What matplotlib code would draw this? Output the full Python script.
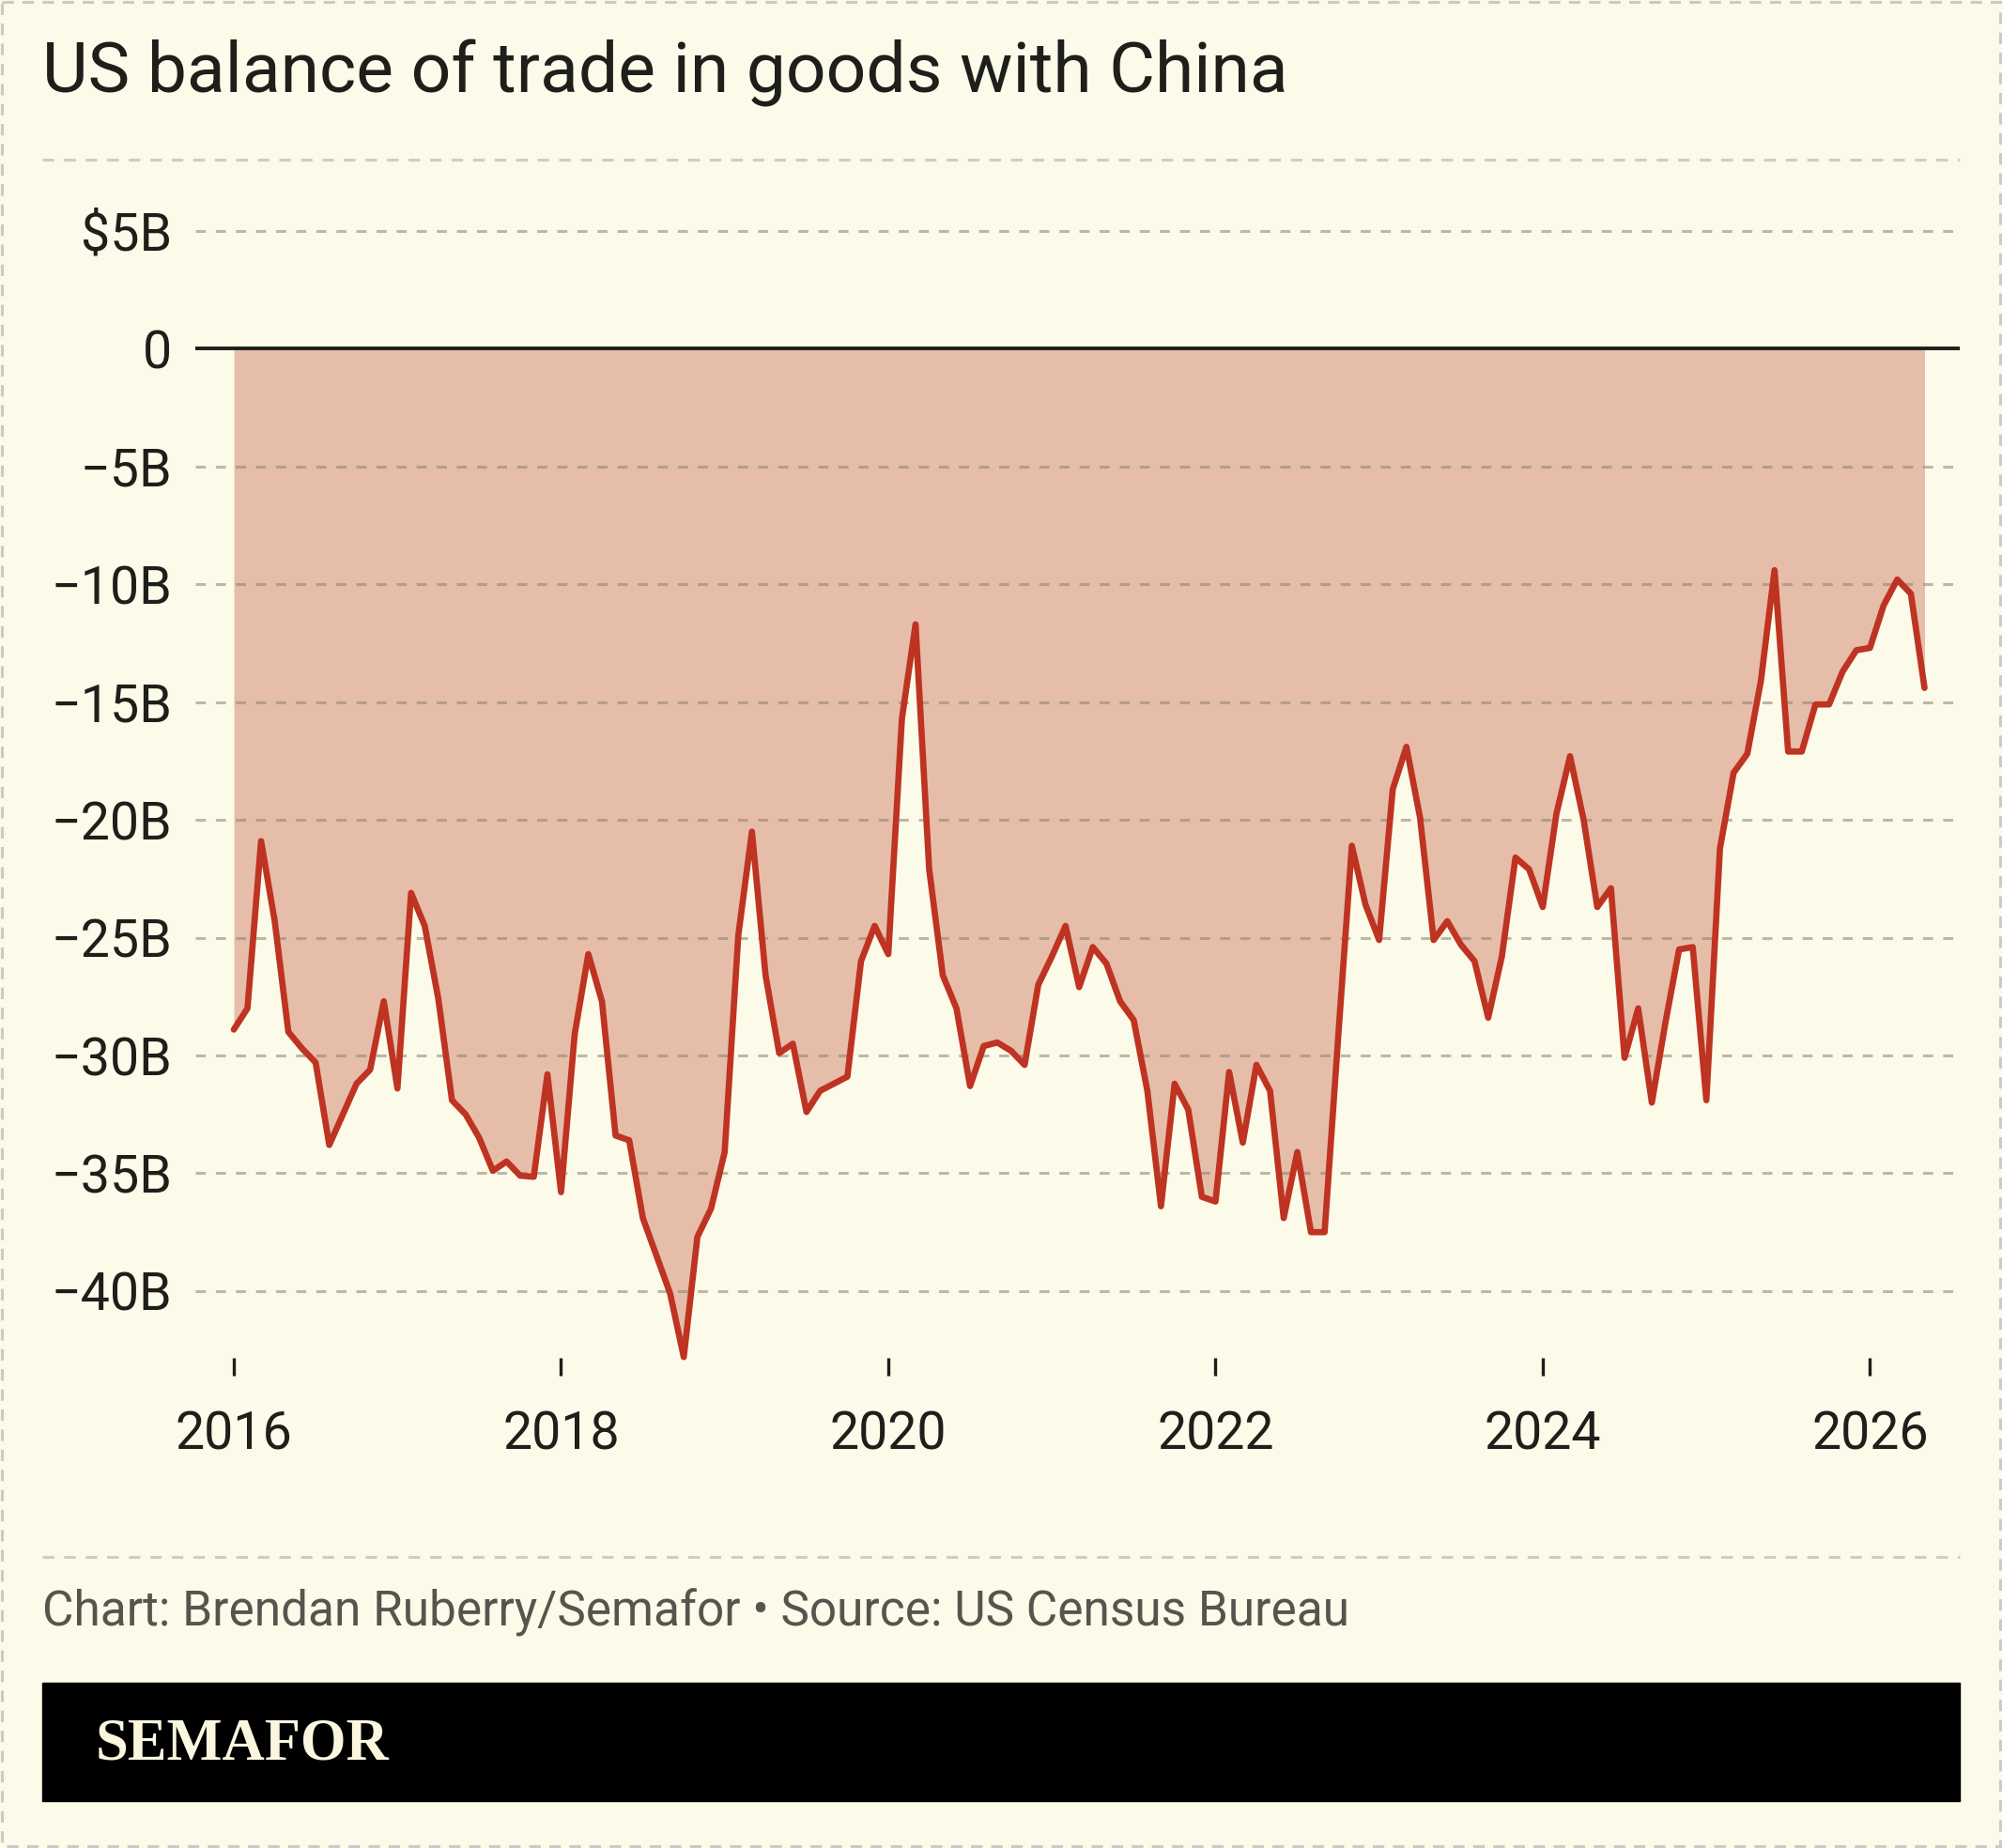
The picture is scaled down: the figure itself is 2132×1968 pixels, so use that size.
import numpy as np
import matplotlib
matplotlib.use("Agg")
import matplotlib.pyplot as plt

# monthly US goods trade balance with China, $B, Jan 2016 .. May 2026
balance = [
    -28.9, -28.0, -20.9, -24.3, -29.0, -29.7, -30.3, -33.8, -32.5, -31.2, -30.6, -27.7,
    -31.4, -23.1, -24.5, -27.6, -31.9, -32.5, -33.5, -34.9, -34.5, -35.1, -35.15, -30.8,
    -35.8, -29.1, -25.7, -27.7, -33.4, -33.6, -36.9, -38.5, -40.1, -42.8, -37.7, -36.5,
    -34.1, -24.9, -20.5, -26.6, -29.9, -29.5, -32.4, -31.5, -31.2, -30.9, -26.0, -24.5,
    -25.7, -15.7, -11.7, -22.1, -26.6, -28.0, -31.3, -29.6, -29.45, -29.8, -30.4, -27.0,
    -25.8, -24.5, -27.1, -25.4, -26.1, -27.7, -28.5, -31.5, -36.4, -31.2, -32.3, -36.0,
    -36.2, -30.7, -33.7, -30.4, -31.5, -36.9, -34.1, -37.5, -37.5, -29.2, -21.1, -23.6,
    -25.1, -18.7, -16.9, -19.9, -25.1, -24.3, -25.3, -26.0, -28.4, -25.8, -21.6, -22.1,
    -23.7, -19.75, -17.3, -20.0, -23.7, -22.9, -30.1, -28.0, -32.0, -28.6, -25.5, -25.4,
    -31.9, -21.2, -18.0, -17.2, -14.1, -9.4, -17.1, -17.1, -15.1, -15.1, -13.7, -12.8,
    -12.7, -10.9, -9.8, -10.4, -14.4,
]
months = np.arange(len(balance))

year_ticks = [0, 24, 48, 72, 96, 120]
year_labels = ["2016", "2018", "2020", "2022", "2024", "2026"]
y_ticks = [5, 0, -5, -10, -15, -20, -25, -30, -35, -40]
y_labels = ["$5B", "0", "\u22125B", "\u221210B", "\u221215B", "\u221220B",
            "\u221225B", "\u221230B", "\u221235B", "\u221240B"]

FONT = "Roboto"
BG = "#FCFAE8"
INK = "#1E1E1A"
W, H = 2132, 1968

fig = plt.figure(figsize=(W / 100, H / 100), dpi=100, facecolor=BG)

def fx(px):
    return px / W

def fy(py):
    return 1 - py / H

# overlay in pixel coords for frame, separators, banner, texts
ov = fig.add_axes([0, 0, 1, 1], facecolor="none")
ov.set_xlim(0, W)
ov.set_ylim(H, 0)
ov.axis("off")
ov.add_patch(plt.Rectangle((2, 2), W - 4, H - 4, fill=False, ec="#CCCAC2",
                           lw=2.2, ls=(0, (4, 3))))
ov.plot([45, 2087], [170, 170], color="#CFCCC2", lw=2.2, ls=(0, (4, 3.5)))
ov.plot([45, 2087], [1658, 1658], color="#CFCCC2", lw=2.2, ls=(0, (4, 3.5)))
ov.add_patch(plt.Rectangle((45, 1792), 2087 - 45, 126, color="black"))
ov.text(102, 1858, "SEMAFOR", color="#FBF6DE", fontsize=45, fontweight="bold",
        family="Liberation Serif", va="center", ha="left")

ov.text(45, 78, "US balance of trade in goods with China", fontsize=54,
        family=FONT, color=INK, va="center", ha="left")
ov.text(45, 1717, "Chart: Brendan Ruberry/Semafor \u2022 Source: US Census Bureau",
        fontsize=37, family=FONT, color="#55554E", va="center", ha="left")

# chart axes: x from 208 to 2087 px, y from 230 to 1446 px
x_px0, x_px1 = 208, 2087
y_px0, y_px1 = 230, 1446
m_px = 14.52
zero_px, b_px = 371.3, 25.09
ax = fig.add_axes([fx(x_px0), fy(y_px1), fx(x_px1 - x_px0), (y_px1 - y_px0) / H])
ax.set_facecolor("none")
ax.set_xlim(-(249 - x_px0) / m_px, (x_px1 - 249) / m_px)
ax.set_ylim((zero_px - y_px1) / b_px, (zero_px - y_px0) / b_px)

ax.fill_between(months, balance, 0, color="#E6BDA8", lw=0, zorder=1)
for v in y_ticks:
    if v != 0:
        ax.axhline(v, color="#8A8370", alpha=0.55, lw=2.2, ls=(0, (3.5, 3.5)), zorder=2)
ax.axhline(0, color=INK, lw=2.8, zorder=3)
ax.plot(months, balance, color="#BE3322", lw=4.8, zorder=4, clip_on=False,
        solid_joinstyle="round", solid_capstyle="round")

for s in ax.spines.values():
    s.set_visible(False)
ax.set_xticks(year_ticks)
ax.set_xticklabels(year_labels)
ax.set_yticks(y_ticks)
ax.set_yticklabels(y_labels)
ax.tick_params(axis="x", length=14, width=2.4, color=INK, pad=26, labelsize=40,
               labelcolor=INK)
ax.tick_params(axis="y", length=0, pad=18, labelsize=40, labelcolor=INK)
for lab in ax.get_xticklabels() + ax.get_yticklabels():
    lab.set_family(FONT)

fig.savefig("out.png", dpi=100, facecolor=BG)
